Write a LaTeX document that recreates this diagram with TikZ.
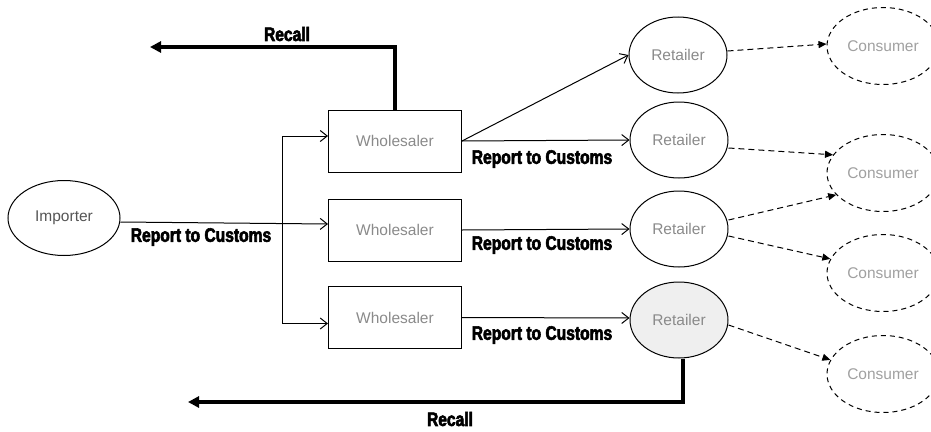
\documentclass[tikz,border=0pt]{standalone}
\usepackage{fontspec}
\setmainfont{Liberation Sans}
\newfontfamily\heavyfont[FakeStretch=0.8,BoldFeatures={FakeBold=3}]{Liberation Sans}
\usetikzlibrary{arrows.meta,calc,shapes.geometric}
\definecolor{labelgray}{HTML}{8A8A8A}
\definecolor{consumergray}{HTML}{A0A0A0}
\definecolor{importgray}{HTML}{555555}
\definecolor{shade}{HTML}{EFEFEF}
\begin{document}
\begin{tikzpicture}[x=1pt,y=-1pt,
  partytext/.style={font=\fontsize{15.5}{17}\selectfont, text=labelgray},
  box/.style={partytext, draw, line width=1pt, minimum width=133pt, minimum height=62pt, inner sep=0pt},
  oval/.style={partytext, ellipse, draw, line width=1pt, inner sep=0pt},
  retailer/.style={oval, minimum width=98pt, minimum height=76pt},
  consumer/.style={oval, text=consumergray, dash pattern=on 5pt off 4pt, minimum width=112pt, minimum height=77pt},
  flow/.style={line width=1pt, -{Straight Barb[length=7pt,width=11pt,line width=1pt]}},
  sale/.style={line width=1pt, dash pattern=on 6pt off 4pt, -{Triangle[length=8pt,width=7pt]}},
  recall/.style={line width=3.2pt, -{Triangle[length=11pt,width=11pt]}},
  tag/.style={font=\heavyfont\bfseries\fontsize{19.5}{21}\selectfont, inner sep=0pt}
]
\useasboundingbox (0,0) rectangle (931,431);

% parties
\node[oval, text=importgray, minimum width=112pt, minimum height=75pt] (imp) at (64,218) {Importer};
\node[box] (w1) at (395,141) {Wholesaler};
\node[box] (w2) at (395,230) {Wholesaler};
\node[box] (w3) at (395,317.5) {Wholesaler};
\node[retailer] (r1) at (678,55) {Retailer};
\node[retailer] (r2) at (679,140) {Retailer};
\node[retailer] (r3) at (679,229) {Retailer};
\node[retailer, fill=shade] (r4) at (679,320) {Retailer};
\node[consumer] (c1) at (883,46) {Consumer};
\node[consumer] (c2) at (883,173) {Consumer};
\node[consumer] (c3) at (883,273) {Consumer};
\node[consumer] (c4) at (883,374) {Consumer};

% importer to wholesalers
\coordinate (imout) at ($(imp.east)+(0,-4pt)$);
\coordinate (w2in) at ($(w2.west)+(0,6pt)$);
\coordinate (br) at ($(imout)!0.78!(w2in)$);
\draw[flow] (imout) -- (w2in);
\draw[flow] (br) |- ($(w1.west)+(0,5pt)$);
\draw[flow] (br) |- ($(w3.west)+(0,-6pt)$);

% wholesalers to retailers
\draw[flow] (w1.east) -- (r1.west);
\draw[flow] (w1.east) -- (r2.west);
\draw[flow] (w2.east) -- (r3.west);
\draw[flow] (w3.east) -- ($(r4.west)+(0,2pt)$);

% retailers to consumers
\draw[sale] ($(r1.east)+(0,4pt)$) -- ($(c1.west)+(0,2pt)$);
\draw[sale] ($(r2.east)+(0,-8pt)$) -- (c2.160);
\draw[sale] ($(r3.east)+(0,9pt)$) -- (c2.205);
\draw[sale] ($(r3.east)+(0,-7pt)$) -- (c3.165);
\draw[sale] ($(r4.east)+(0,-5pt)$) -- (c4.165);

% recalls
\coordinate (rc1) at (150,47);
\coordinate (rc2) at (188,402);
\draw[recall] (w1.north) |- (rc1);
\draw[recall] ($(r4.south)+(4pt,0)$) |- (rc2);

% labels
\node[tag] (t0) at (201,237) {Report to Customs};
\node[tag] (t1) at (542,159) {Report to Customs};
\node[tag] (t2) at (542,245) {Report to Customs};
\node[tag] (t3) at (542,335) {Report to Customs};
\node[tag] (t4) at (287,34) {Recall};
\node[tag] (t5) at (450,419) {Recall};
\end{tikzpicture}
\end{document}
